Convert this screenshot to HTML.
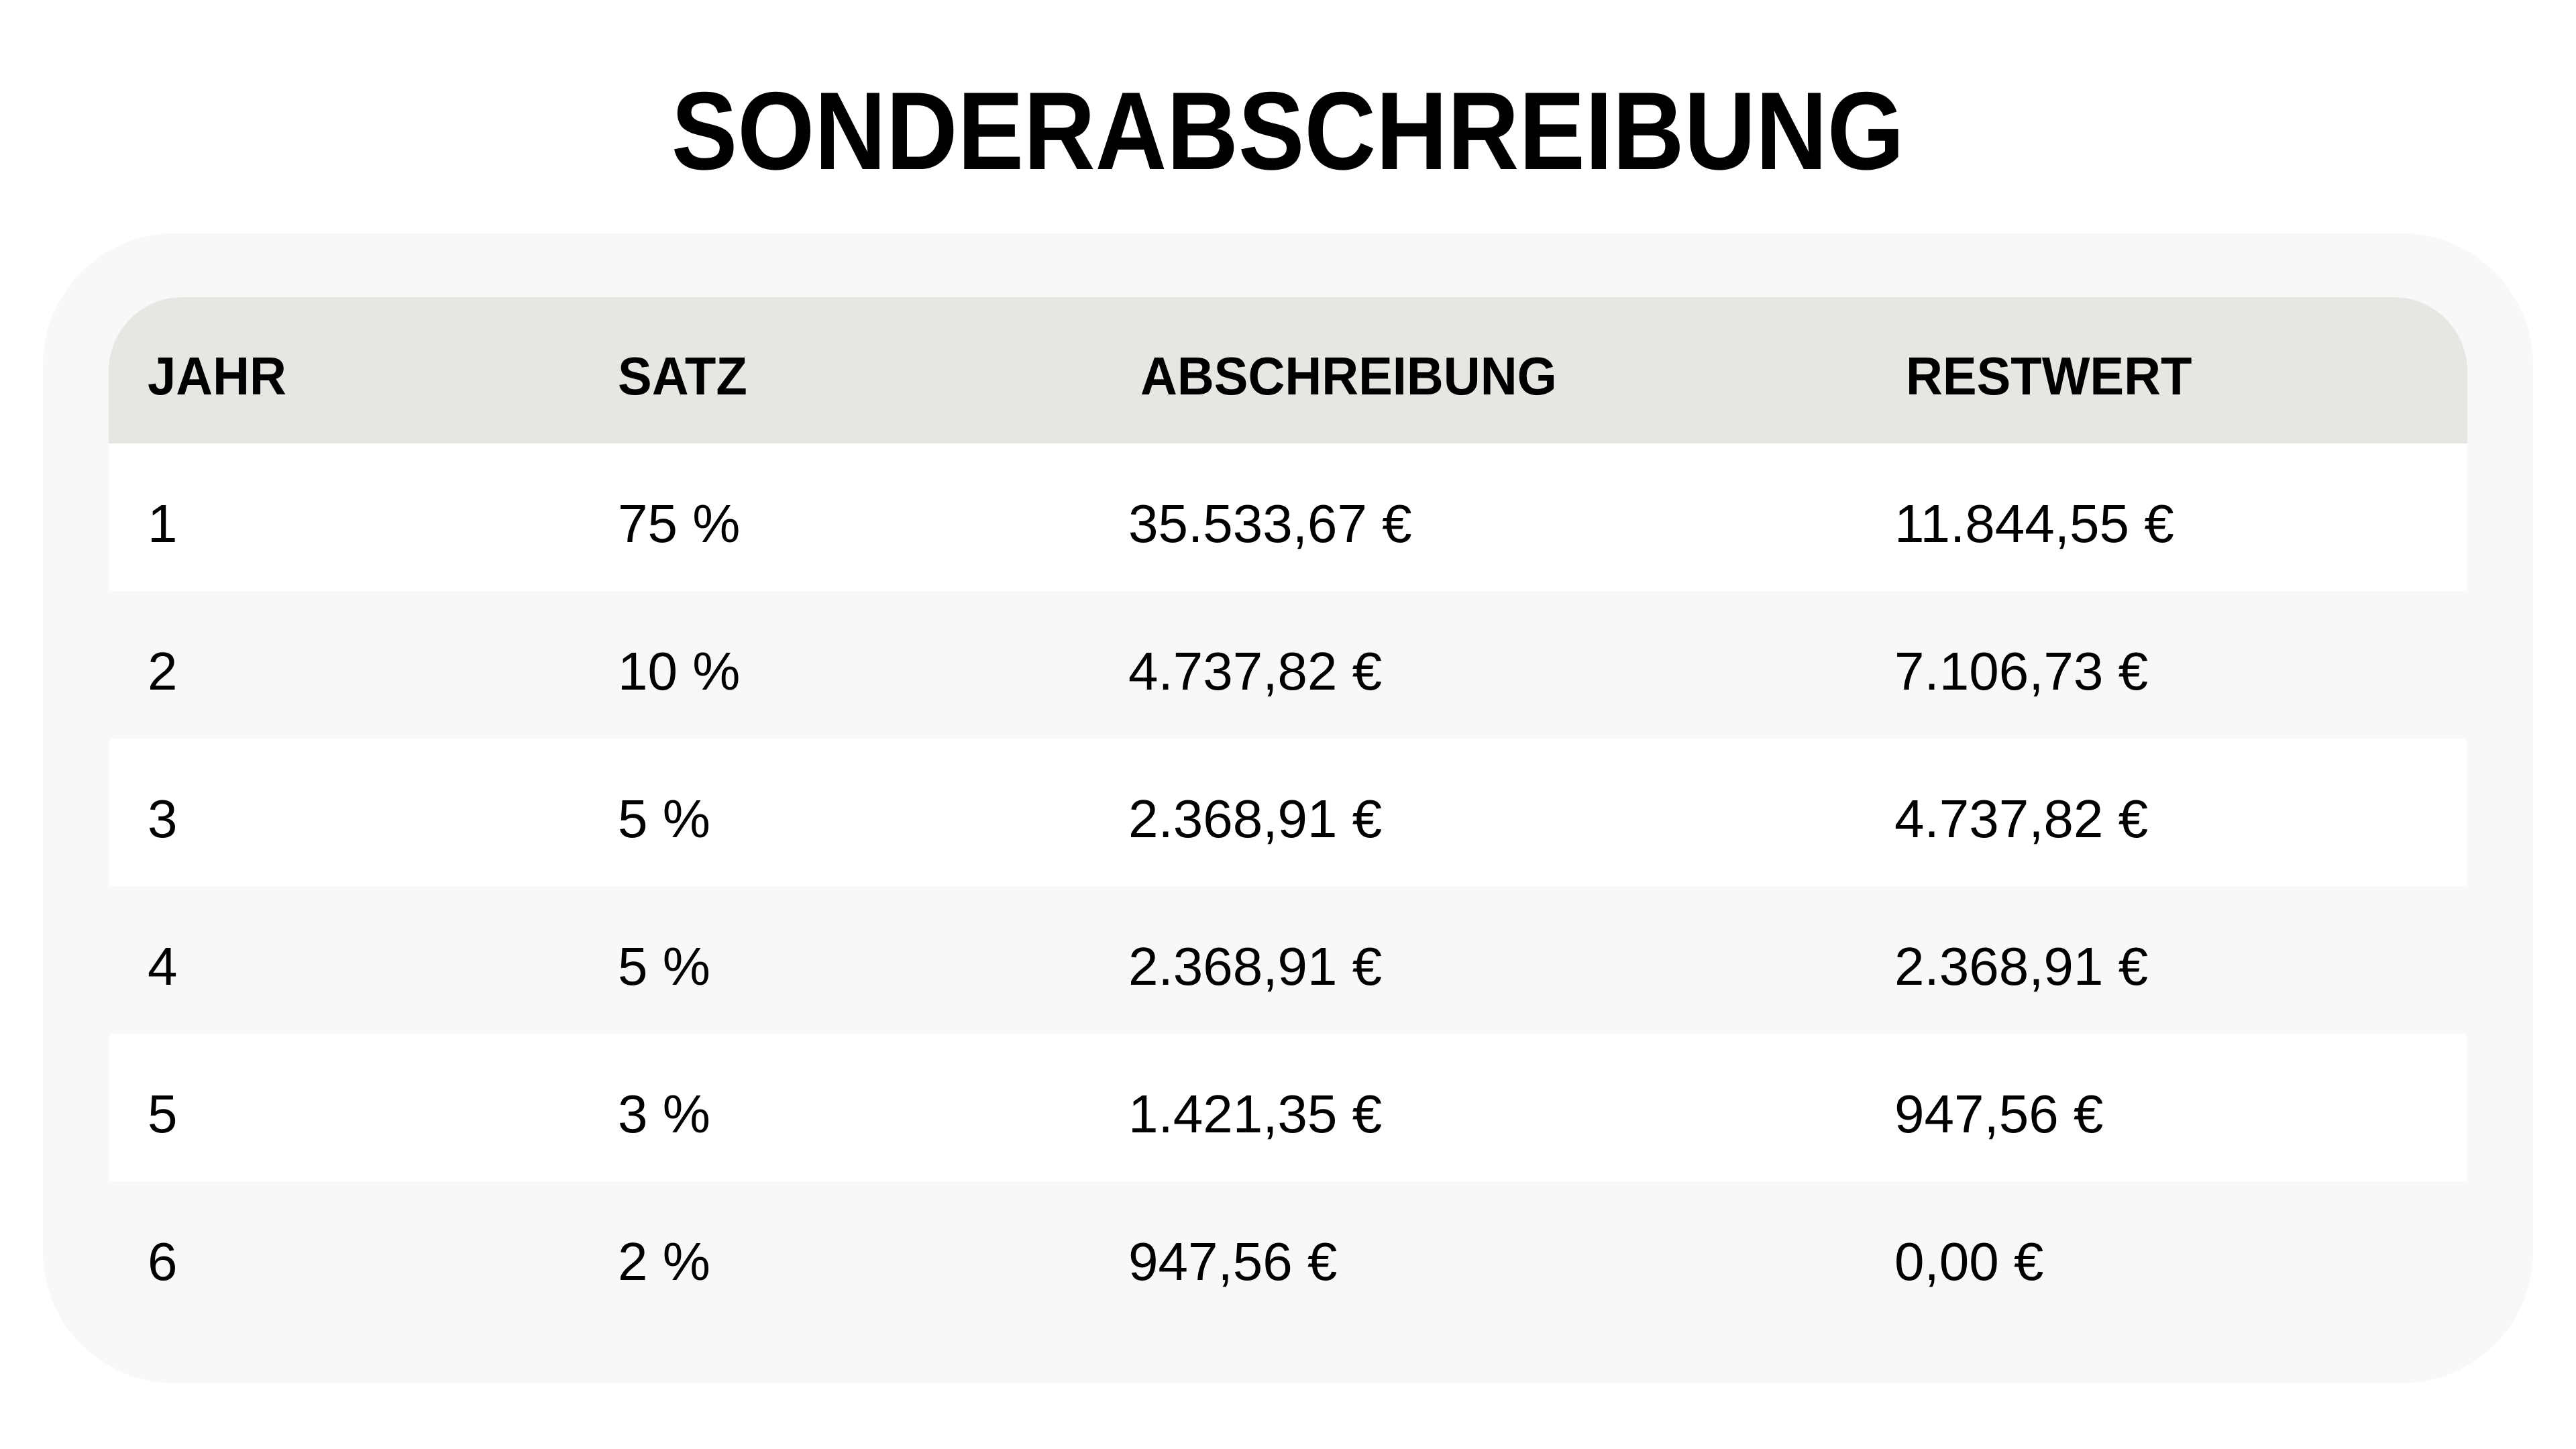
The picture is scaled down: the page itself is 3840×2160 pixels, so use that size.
<!DOCTYPE html>
<html><head><meta charset="utf-8"><style>
body{margin:0;width:3840px;height:2160px;background:#fff;position:relative;overflow:hidden;font-family:"Liberation Sans",sans-serif;color:#000}
.title{position:absolute;left:0;width:3840px;top:95px;text-align:center;font-weight:bold;font-size:165px;line-height:200px}
.title span{display:inline-block;transform:scaleX(0.895)}
.panel{position:absolute;left:64px;top:348px;width:3712px;height:1714px;background:#f8f8f8;border-radius:196px}
.head{position:absolute;left:162px;top:443px;width:3516px;height:218px;background:#e7e6e3;border-radius:110px 110px 0 0}
.row{position:absolute;left:162px;width:3516px;height:220px}
.t{position:absolute;font-size:80px;line-height:100px;white-space:nowrap}
.h{font-weight:bold;transform:scaleX(0.95);transform-origin:left}
</style></head><body>
<div class="title"><span>SONDERABSCHREIBUNG</span></div>
<div class="panel"></div>
<div class="head"></div>
<div class="row" style="top:661px;background:#fff"></div>
<div class="row" style="top:1101px;background:#fff"></div>
<div class="row" style="top:1541px;background:#fff"></div>
<div class="t h" style="left:220px;top:511px">JAHR</div>
<div class="t h" style="left:921px;top:511px">SATZ</div>
<div class="t h" style="left:1700px;top:511px">ABSCHREIBUNG</div>
<div class="t h" style="left:2841px;top:511px">RESTWERT</div>

<div class="t" style="left:220px;top:731px">1</div><div class="t" style="left:921px;top:731px">75 %</div><div class="t" style="left:1682px;top:731px">35.533,67 €</div><div class="t" style="left:2824px;top:731px">11.844,55 €</div>
<div class="t" style="left:220px;top:951px">2</div><div class="t" style="left:921px;top:951px">10 %</div><div class="t" style="left:1682px;top:951px">4.737,82 €</div><div class="t" style="left:2824px;top:951px">7.106,73 €</div>
<div class="t" style="left:220px;top:1171px">3</div><div class="t" style="left:921px;top:1171px">5 %</div><div class="t" style="left:1682px;top:1171px">2.368,91 €</div><div class="t" style="left:2824px;top:1171px">4.737,82 €</div>
<div class="t" style="left:220px;top:1391px">4</div><div class="t" style="left:921px;top:1391px">5 %</div><div class="t" style="left:1682px;top:1391px">2.368,91 €</div><div class="t" style="left:2824px;top:1391px">2.368,91 €</div>
<div class="t" style="left:220px;top:1611px">5</div><div class="t" style="left:921px;top:1611px">3 %</div><div class="t" style="left:1682px;top:1611px">1.421,35 €</div><div class="t" style="left:2824px;top:1611px">947,56 €</div>
<div class="t" style="left:220px;top:1831px">6</div><div class="t" style="left:921px;top:1831px">2 %</div><div class="t" style="left:1682px;top:1831px">947,56 €</div><div class="t" style="left:2824px;top:1831px">0,00 €</div>
</body></html>
